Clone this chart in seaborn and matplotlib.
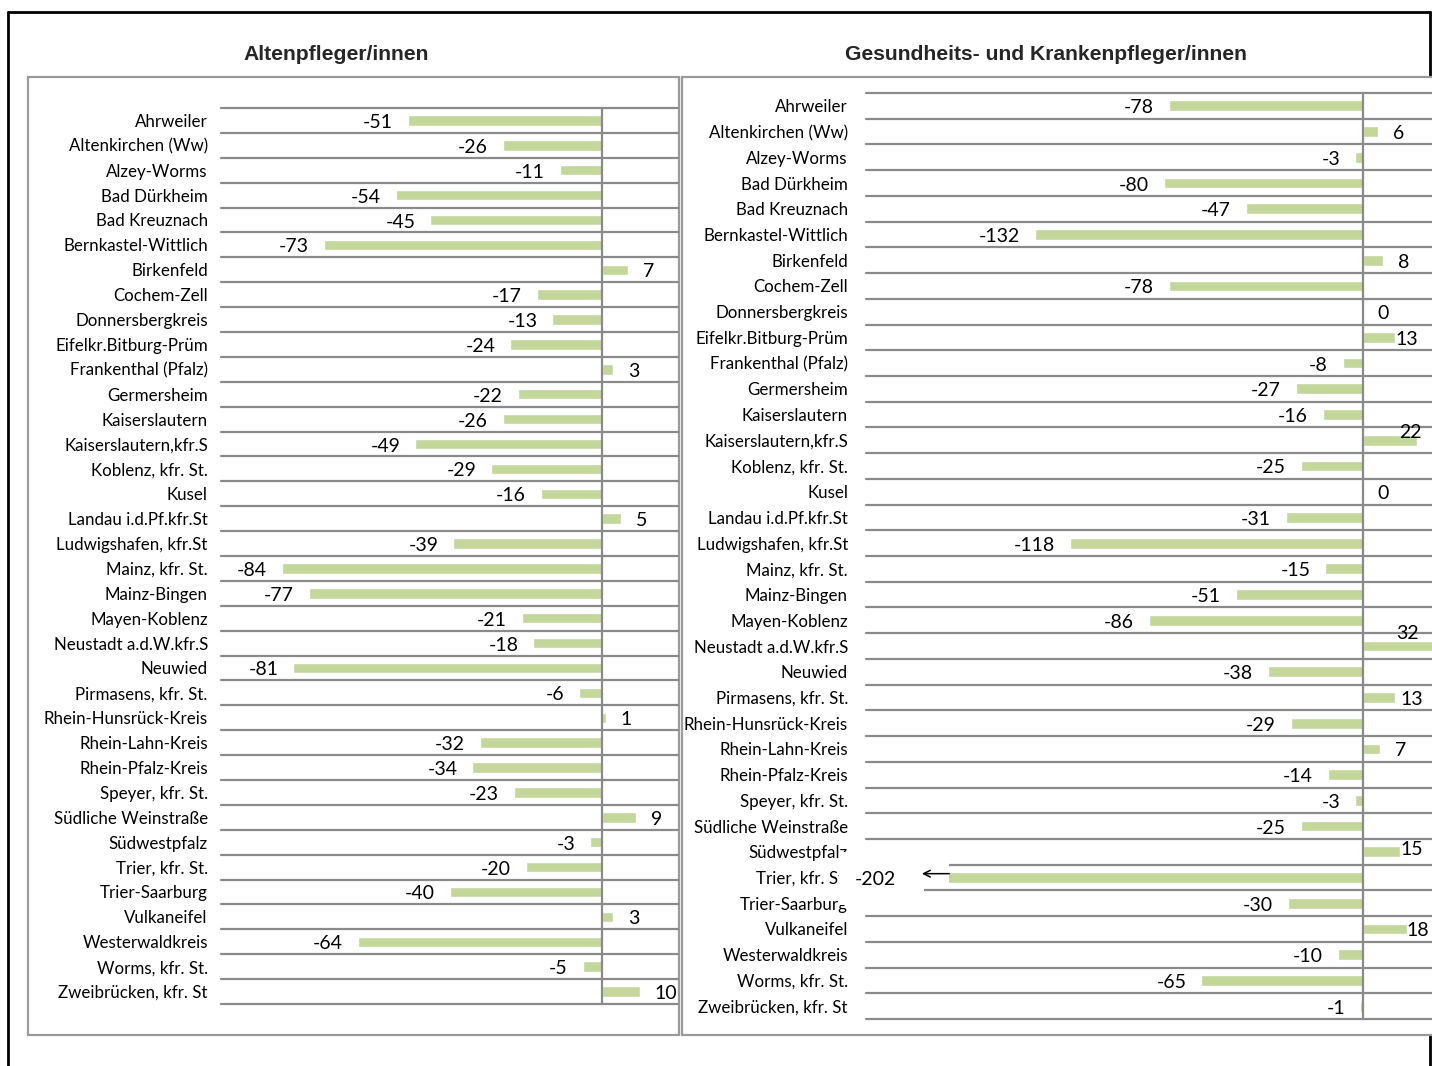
import numpy as np
import pandas as pd
import matplotlib
matplotlib.use("Agg")
import matplotlib.pyplot as plt
import seaborn as sns
from matplotlib.patches import Rectangle
from matplotlib.lines import Line2D

# Kreise und kreisfreie Städte
districts = [
    "Ahrweiler", "Altenkirchen (Ww)", "Alzey-Worms", "Bad Dürkheim", "Bad Kreuznach",
    "Bernkastel-Wittlich", "Birkenfeld", "Cochem-Zell", "Donnersbergkreis",
    "Eifelkr.Bitburg-Prüm", "Frankenthal (Pfalz)", "Germersheim", "Kaiserslautern",
    "Kaiserslautern,kfr.S", "Koblenz, kfr. St.", "Kusel", "Landau i.d.Pf.kfr.St",
    "Ludwigshafen, kfr.St", "Mainz, kfr. St.", "Mainz-Bingen", "Mayen-Koblenz",
    "Neustadt a.d.W.kfr.S", "Neuwied", "Pirmasens, kfr. St.", "Rhein-Hunsrück-Kreis",
    "Rhein-Lahn-Kreis", "Rhein-Pfalz-Kreis", "Speyer, kfr. St.", "Südliche Weinstraße",
    "Südwestpfalz", "Trier, kfr. St.", "Trier-Saarburg", "Vulkaneifel",
    "Westerwaldkreis", "Worms, kfr. St.", "Zweibrücken, kfr. St",
]

altenpflege = [
    -51, -26, -11, -54, -45, -73, 7, -17, -13, -24, 3, -22, -26, -49, -29, -16, 5,
    -39, -84, -77, -21, -18, -81, -6, 1, -32, -34, -23, 9, -3, -20, -40, 3, -64, -5, 10,
]

krankenpflege = [
    -78, 6, -3, -80, -47, -132, 8, -78, 0, 13, -8, -27, -16, 22, -25, 0, -31,
    -118, -15, -51, -86, 32, -38, 13, -29, 7, -14, -3, -25, 15, -202, -30, 18, -10, -65, -1,
]

title_left = "Altenpfleger/innen"
title_right = "Gesundheits- und Krankenpfleger/innen"

# label placement tweaks where the label would run past the right edge
# (category -> (x in data units, vertical shift in pixels))
right_label_nudges = {
    "Eifelkr.Bitburg-Prüm": (13.3, 0),
    "Kaiserslautern,kfr.S": (14.5, -10),
    "Neustadt a.d.W.kfr.S": (13.3, -15),
    "Pirmasens, kfr. St.": (15.3, 0),
    "Südwestpfalz": (15.3, -4),
    "Vulkaneifel": (17.7, 0),
}

BAR = "#C4D79B"
GRID = "#8A8A8A"
BOX = "#9A9A9A"
LABEL_SIZE = 12.2
VALUE_SIZE = 14
VALUE_DROP = 2  # value labels sit a touch below the bar centre

W, H = 1432, 1066
sns.set_theme(style="white")
plt.rcParams["font.family"] = ["Lato", "DejaVu Sans"]

fig = plt.figure(figsize=(W / 100, H / 100), dpi=100)
fig.patch.set_facecolor("white")


def fx(x):
    return x / W


def fy(y):
    return 1 - y / H


def add_rect(x0, y0, x1, y1, **kw):
    fig.patches.append(Rectangle((fx(x0), fy(y1)), fx(x1) - fx(x0), fy(y0) - fy(y1),
                                 transform=fig.transFigure, figure=fig, **kw))


def add_line(xs, ys, **kw):
    fig.lines.append(Line2D([fx(x) for x in xs], [fy(y) for y in ys],
                            transform=fig.transFigure, figure=fig, **kw))


# outer frame and the two panel boxes
add_line([8, 8], [12, 1066], color="black", lw=2, zorder=0.05)
add_line([8, 1430], [12, 12], color="black", lw=2, zorder=0.05)
add_line([1430, 1430], [12, 77], color="black", lw=2, zorder=0.05)
add_line([1430, 1430], [1035, 1066], color="black", lw=2, zorder=0.05)
add_rect(28, 77, 679, 1035, facecolor="white", edgecolor=BOX, lw=1.6, zorder=0.1)
add_rect(682, 77, 1520, 1035, facecolor="white", edgecolor=BOX, lw=1.6, zorder=0.1)

fig.text(fx(336), fy(54), title_left, ha="center", va="center", fontsize=15.2,
         fontweight="bold", family="Liberation Sans")
fig.text(fx(1046), fy(54), title_right, ha="center", va="center", fontsize=15.2,
         fontweight="bold", family="Liberation Sans")


def draw_panel(ax, values, xlim, pad, nudges=None):
    nudges = nudges or {}
    df = pd.DataFrame({"Kreis": districts, "Wert": values})
    sns.barplot(data=df, x="Wert", y="Kreis", orient="h", color=BAR, width=0.42,
                saturation=1, errorbar=None, ax=ax, zorder=2)
    n = len(districts)
    ax.set_xlim(*xlim)
    ax.set_ylim(n - 0.5, -0.5)
    ax.set_facecolor("none")
    for s in ax.spines.values():
        s.set_visible(False)
    ax.set_xticks([])
    ax.set_xlabel("")
    ax.set_ylabel("")
    ax.tick_params(axis="y", length=0, pad=pad, labelsize=LABEL_SIZE, labelcolor="black")
    for b in np.arange(-0.5, n, 1.0):
        ax.axhline(b, color=GRID, lw=1.6, zorder=1, clip_on=False)
    ax.axvline(0, color=GRID, lw=1.6, zorder=3, clip_on=False)

    for i, (name, v) in enumerate(zip(districts, values)):
        if v < xlim[0]:
            continue
        if name in nudges:
            x, dy = nudges[name]
            xy, off, ha = (x, i), (0, -dy - VALUE_DROP), "left"
        elif v >= 0:
            xy, off, ha = (v, i), (15, -VALUE_DROP), "left"
        else:
            xy, off, ha = (v, i), (-15, -VALUE_DROP), "right"
        ax.annotate(f"{v}", xy=xy, xytext=off, textcoords="offset pixels",
                    ha=ha, va="center", fontsize=VALUE_SIZE, color="black", zorder=5,
                    annotation_clip=False)


ax_l = fig.add_axes([fx(221), fy(1004), fx(678) - fx(221), fy(108) - fy(1004)])
ax_l.set_zorder(1)
draw_panel(ax_l, altenpflege, (-100, 20), pad=9.5)

ax_r = fig.add_axes([fx(866), fy(1019), fx(1462) - fx(866), fy(93) - fy(1019)])
ax_r.set_zorder(1)
draw_panel(ax_r, krankenpflege, (-200, 40), pad=13, nudges=right_label_nudges)

# bar running off the left end of the scale: mask its start and mark it with an arrow
for i, v in enumerate(krankenpflege):
    if v < -200:
        ax_r.add_patch(Rectangle((-211, i - 1.0), 34.4, 2.05, facecolor="white",
                                 edgecolor="none", zorder=10, clip_on=False))
        ax_r.add_patch(Rectangle((-177, i - 0.6), 10.5, 1.0, facecolor="white",
                                 edgecolor="none", zorder=10, clip_on=False))
        ax_r.annotate(f"{v}", xy=(-188, i), xytext=(0, -VALUE_DROP),
                      textcoords="offset pixels", ha="right", va="center",
                      fontsize=VALUE_SIZE, color="black", zorder=11,
                      annotation_clip=False)
        ax_r.annotate("", xy=(-177.5, i - 0.15), xytext=(-166.5, i - 0.15),
                      arrowprops=dict(arrowstyle="->", color="black", lw=1.1,
                                      shrinkA=0, shrinkB=0),
                      zorder=11, annotation_clip=False)

fig.savefig("out.png", dpi=100, facecolor="white")
